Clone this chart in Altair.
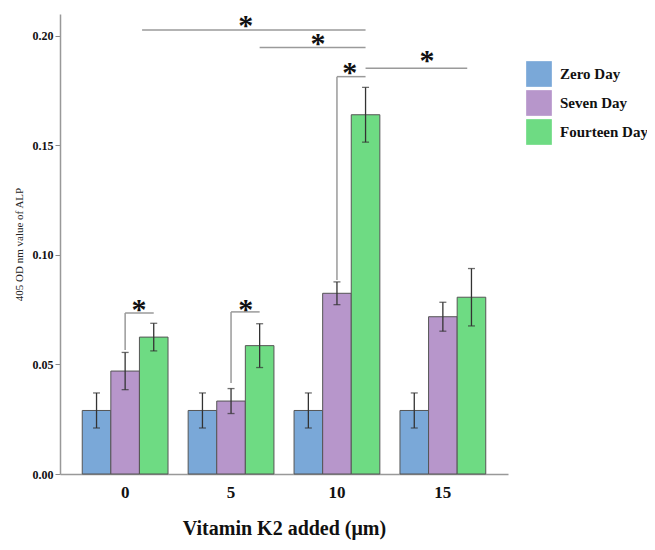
import altair as alt
import pandas as pd

doses = ["0", "5", "10", "15"]
days = ["Zero Day", "Seven Day", "Fourteen Day"]
colors = ["#7AA8D8", "#B796CB", "#6EDB83"]

zero_mean = [0.029, 0.029, 0.029, 0.029]
seven_mean = [0.047, 0.0333, 0.0825, 0.0718]
fourteen_mean = [0.0625, 0.0586, 0.164, 0.0807]
zero_err = [0.008, 0.008, 0.008, 0.008]
seven_err = [0.0085, 0.0057, 0.0052, 0.0066]
fourteen_err = [0.0063, 0.0100, 0.0125, 0.0131]

# significance annotations (x in group units: group i centre = i, bar offset 0.27)
seg_x = [0.0, 0.0, 1.0, 1.0, 2.0, 2.0, 2.27, 1.27, 0.16]
seg_x2 = [0.0, 0.27, 1.0, 1.27, 2.0, 2.27, 3.23, 2.27, 2.27]
seg_y = [0.0566, 0.0735, 0.0416, 0.0740, 0.0886, 0.1814, 0.1852, 0.1947, 0.2027]
seg_y2 = [0.0735, 0.0735, 0.0740, 0.0740, 0.1814, 0.1814, 0.1852, 0.1947, 0.2027]
star_x = [0.13, 1.14, 2.12, 2.85, 1.82, 1.14]
star_y = [0.0767, 0.0767, 0.185, 0.1904, 0.198, 0.2065]

rows = []
for d, means, errs in [(days[0], zero_mean, zero_err), (days[1], seven_mean, seven_err),
                       (days[2], fourteen_mean, fourteen_err)]:
    for dose, m, e in zip(doses, means, errs):
        rows.append({"dose": dose, "day": d, "mean": m, "lo": m - e, "hi": m + e})
df = pd.DataFrame(rows)
segs = pd.DataFrame({"x": seg_x, "x2": seg_x2, "y": seg_y, "y2": seg_y2})
stars = pd.DataFrame({"x": star_x, "y": star_y, "t": ["*"] * len(star_x)})

FONT = "Liberation Serif"
yscale = alt.Scale(domain=[0, 0.21], nice=False)
xband = alt.X("dose:N", sort=doses,
              scale=alt.Scale(paddingInner=0.19, paddingOuter=0.21),
              axis=alt.Axis(title="Vitamin K2 added (\u03bcm)", labelAngle=0, ticks=False,
                            orient="bottom",
                            labelFont=FONT, labelFontSize=17, labelFontWeight="bold",
                            labelColor="#111", labelPadding=10,
                            titleFont=FONT, titleFontSize=20, titleFontWeight="bold",
                            titleColor="#111", titlePadding=18,
                            domainColor="#999", domainWidth=1.5))
xoff = alt.XOffset("day:N", sort=days)

bars = alt.Chart(df).mark_bar(stroke="#555", strokeWidth=1).encode(
    x=xband,
    xOffset=xoff,
    y=alt.Y("mean:Q", scale=yscale,
            axis=alt.Axis(title="405 OD nm value of ALP", values=[0, 0.05, 0.1, 0.15, 0.2],
                          format=".2f", grid=False, tickSize=5, tickColor="#888",
                          labelFont=FONT, labelFontSize=12, labelFontWeight="bold",
                          labelColor="#111", labelPadding=2,
                          titleFont=FONT, titleFontSize=11, titleFontWeight="normal",
                          titleColor="#222", titlePadding=8,
                          domainColor="#999", domainWidth=1.5)),
    color=alt.Color("day:N", sort=days, scale=alt.Scale(domain=days, range=colors),
                    legend=alt.Legend(title=None, orient="none", legendX=466, legendY=47,
                                      symbolType="square", symbolSize=660,
                                      symbolStrokeWidth=0, symbolOpacity=1,
                                      labelFont=FONT, labelFontSize=15,
                                      labelFontWeight="bold", labelColor="#111",
                                      rowPadding=3, labelOffset=8)),
)

err = alt.Chart(df).mark_rule(color="#333", strokeWidth=1.3).encode(
    x=alt.X("dose:N", sort=doses), xOffset=xoff, y="lo:Q", y2="hi:Q")
cap_lo = alt.Chart(df).mark_tick(color="#333", thickness=1.3, size=7).encode(
    x=alt.X("dose:N", sort=doses), xOffset=xoff, y="lo:Q")
cap_hi = alt.Chart(df).mark_tick(color="#333", thickness=1.3, size=7).encode(
    x=alt.X("dose:N", sort=doses), xOffset=xoff, y="hi:Q")

xq = alt.Scale(domain=[-0.615, 3.615], nice=False, zero=False)
lines = alt.Chart(segs).mark_rule(color="#9a9a9a", strokeWidth=1.5).encode(
    x=alt.X("x:Q", scale=xq, axis=None), x2="x2:Q",
    y=alt.Y("y:Q", scale=yscale), y2="y2:Q")
star_txt = alt.Chart(stars).mark_text(font=FONT, fontSize=30, fontWeight="bold",
                                      color="#111", baseline="middle", dy=4).encode(
    x=alt.X("x:Q", scale=xq, axis=None), y=alt.Y("y:Q", scale=yscale), text="t:N")

base = alt.layer(bars, err, cap_lo, cap_hi).resolve_scale(x="shared")
ann = alt.layer(lines, star_txt)
chart = alt.layer(base, ann).resolve_scale(x="independent").properties(
    width=448, height=460,
    background="white",
    autosize=alt.AutoSizeParams(type="none"),
    padding={"left": 52, "top": 6, "right": 139, "bottom": 68},
).configure_view(strokeWidth=0, stroke="transparent").configure_axisTop(
    domain=False, ticks=False, labels=False
)

chart.save("out.html", embed_options={"renderer": "svg", "actions": False})
